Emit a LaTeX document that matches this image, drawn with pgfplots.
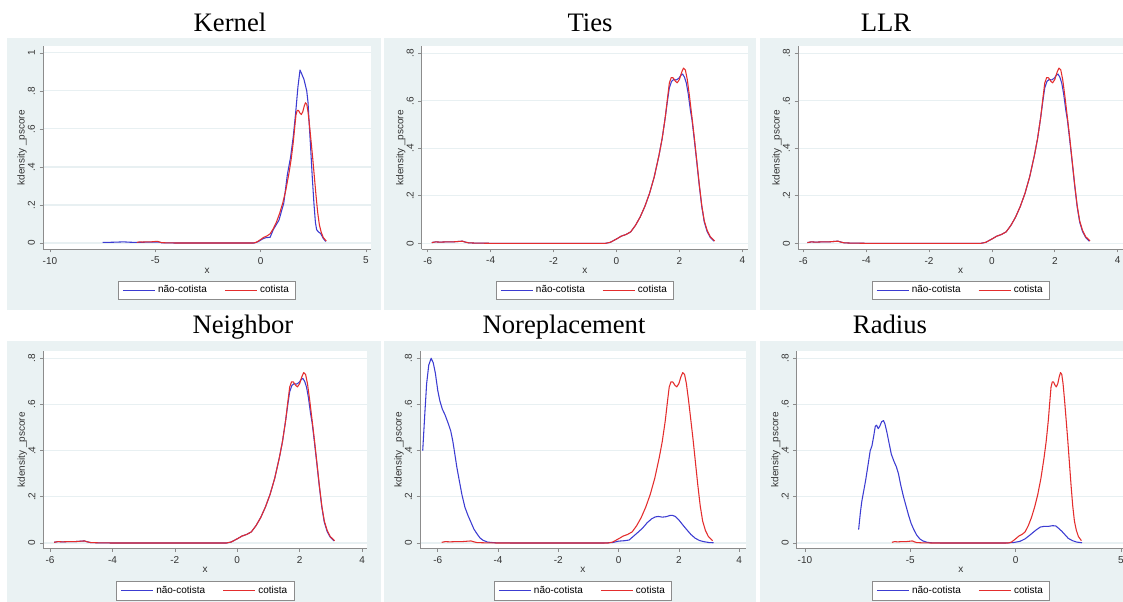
\documentclass[border=0pt]{standalone}
\usepackage{fontspec}
\setmainfont{Liberation Sans}
\newfontfamily\titlefont{Liberation Serif}
\usepackage{pgfplots}
\usepackage{pgfplotstable}
\pgfplotsset{compat=1.18}

\definecolor{bgpanel}{RGB}{234,242,243}
\definecolor{gridc}{RGB}{232,240,242}
\definecolor{nc}{RGB}{60,60,210}
\definecolor{ct}{RGB}{228,45,45}

% cotista density (same in every panel)
\pgfplotstableread{
x y
-5.87 0.003
-5.75 0.006
-5.6 0.005
-5.4 0.006
-5.2 0.006
-5.0 0.008
-4.9 0.009
-4.8 0.005
-4.7 0.002
-4.5 0.001
-4.0 0
-3.0 0
-2.0 0
-1.0 0
-0.35 0
-0.2 0.004
-0.1 0.011
0.05 0.022
0.15 0.03
0.3 0.037
0.45 0.048
0.6 0.075
0.75 0.11
0.9 0.155
1.05 0.21
1.2 0.28
1.35 0.37
1.45 0.44
1.55 0.53
1.62 0.61
1.68 0.675
1.74 0.698
1.8 0.697
1.87 0.683
1.93 0.676
2.0 0.69
2.07 0.72
2.13 0.738
2.19 0.73
2.25 0.69
2.32 0.62
2.4 0.53
2.47 0.45
2.55 0.35
2.63 0.25
2.71 0.16
2.79 0.095
2.88 0.055
2.98 0.028
3.12 0.01
}\cotista

% nao-cotista, kernel matching
\pgfplotstableread{
x y
-7.5 0.003
-7.0 0.004
-6.5 0.006
-6.2 0.004
-5.8 0.003
-5.3 0.005
-4.8 0.005
-4.7 0.001
-4.0 0
-2.0 0
-0.3 0
-0.1 0.008
0.1 0.022
0.25 0.028
0.45 0.03
0.6 0.07
0.87 0.12
1.1 0.21
1.27 0.36
1.42 0.45
1.55 0.56
1.66 0.68
1.77 0.82
1.87 0.91
1.95 0.89
2.06 0.86
2.19 0.80
2.25 0.74
2.31 0.62
2.37 0.51
2.45 0.35
2.53 0.21
2.6 0.11
2.66 0.07
2.75 0.058
2.85 0.05
2.97 0.025
3.09 0.008
}\kernblue

% nao-cotista, ties / llr / neighbor
\pgfplotstableread{
x y
-5.87 0.003
-5.75 0.006
-5.6 0.005
-5.4 0.006
-5.2 0.006
-5.0 0.008
-4.9 0.009
-4.8 0.005
-4.7 0.002
-4.5 0.001
-4.0 0
-3.0 0
-2.0 0
-1.0 0
-0.35 0
-0.2 0.004
-0.1 0.011
0.05 0.022
0.15 0.03
0.3 0.037
0.45 0.048
0.6 0.075
0.75 0.11
0.9 0.155
1.05 0.21
1.2 0.28
1.35 0.37
1.45 0.44
1.55 0.53
1.62 0.60
1.68 0.655
1.75 0.682
1.82 0.69
1.9 0.688
1.98 0.695
2.05 0.708
2.1 0.713
2.16 0.70
2.22 0.675
2.28 0.63
2.35 0.56
2.4 0.52
2.47 0.44
2.55 0.345
2.63 0.245
2.71 0.155
2.79 0.09
2.88 0.05
2.98 0.025
3.1 0.009
}\matchblue

% nao-cotista, noreplacement
\pgfplotstableread{
x y
-6.5 0.40
-6.43 0.56
-6.37 0.69
-6.3 0.77
-6.22 0.80
-6.15 0.78
-6.08 0.735
-6.0 0.66
-5.93 0.615
-5.85 0.58
-5.76 0.555
-5.66 0.52
-5.57 0.485
-5.5 0.44
-5.44 0.39
-5.37 0.33
-5.3 0.28
-5.2 0.21
-5.1 0.155
-5.0 0.12
-4.9 0.09
-4.8 0.06
-4.7 0.04
-4.6 0.022
-4.5 0.012
-4.35 0.004
-4.1 0.001
-3.5 0
-2 0
-0.5 0
-0.2 0.002
0.0 0.008
0.2 0.01
0.35 0.013
0.5 0.03
0.65 0.047
0.8 0.065
0.95 0.088
1.1 0.105
1.22 0.113
1.32 0.115
1.45 0.112
1.58 0.114
1.7 0.119
1.78 0.12
1.88 0.115
2.0 0.1
2.12 0.08
2.26 0.058
2.4 0.037
2.54 0.021
2.68 0.011
2.82 0.006
3.0 0.002
3.15 0.001
}\norepblue

% nao-cotista, radius
\pgfplotstableread{
x y
-7.45 0.058
-7.37 0.13
-7.3 0.18
-7.22 0.22
-7.12 0.27
-7.0 0.34
-6.9 0.40
-6.82 0.42
-6.74 0.46
-6.66 0.505
-6.6 0.51
-6.52 0.495
-6.45 0.505
-6.36 0.525
-6.27 0.53
-6.2 0.515
-6.11 0.48
-6.0 0.43
-5.9 0.385
-5.78 0.355
-5.66 0.33
-5.56 0.3
-5.45 0.25
-5.32 0.2
-5.2 0.16
-5.08 0.12
-4.96 0.085
-4.84 0.06
-4.7 0.035
-4.55 0.018
-4.4 0.009
-4.2 0.003
-4.0 0.001
-3.5 0
-0.5 0
-0.1 0.002
0.2 0.007
0.45 0.018
0.7 0.036
0.95 0.055
1.17 0.069
1.35 0.072
1.55 0.072
1.75 0.075
1.9 0.074
2.05 0.063
2.2 0.05
2.35 0.035
2.5 0.02
2.7 0.01
2.9 0.004
3.15 0.001
}\radblue

\pgfplotsset{
  stata/.style={
    scale only axis,
    anchor=south west,
    axis x line*=bottom,
    axis y line*=left,
    axis line style={black!45, line width=0.6pt},
    axis background/.style={fill=white},
    tick align=outside,
    major tick length=2.5pt,
    tick style={black!45, line width=0.5pt},
    minor tick num=0,
    ymajorgrids,
    grid style={gridc, line width=0.8pt},
    ticklabel style={font=\fontsize{7.5}{9}\selectfont, text=black!80},
    yticklabel style={rotate=90, anchor=south},
    label style={font=\fontsize{7.5}{9}\selectfont, text=black!80},
    xlabel={x},
    ylabel={kdensity \_pscore},
    xlabel style={yshift=4pt},
    ylabel style={yshift=-6pt},
    legend columns=2,
    legend cell align=left,
    legend style={draw=black!45, fill=white, anchor=north,
      font=\fontsize{7.5}{9}\selectfont, inner xsep=3pt, inner ysep=1.5pt,
      /tikz/every even column/.append style={column sep=11pt}},
    legend image code/.code={\draw[#1] (0pt,0pt) -- (24pt,0pt);},
    every axis plot/.append style={line width=0.8pt, line join=round, no marks},
  },
  row1/.style={height=151.9pt, ymin=-0.024, ymax=0.829,
    legend style={at={(0.5,-0.157)}}},
  row2/.style={height=148.1pt, ymin=-0.024, ymax=0.831,
    legend style={at={(0.5,-0.165)}}},
  yeight/.style={ytick={0,0.2,0.4,0.6,0.8}, yticklabels={0,.2,.4,.6,.8}},
  xsix/.style={xtick={-6,-4,-2,0,2,4}, xticklabels={-6,-4,-2,0,2,4}},
  xten/.style={xtick={-10,-5,0,5}, xticklabels={-10,-5,0,5}},
}

\begin{document}
\begin{tikzpicture}
\begin{scope}[x=0.75pt, y=-0.75pt]
  % panel backgrounds
  \fill[bgpanel] (7,38) rectangle (381,310);
  \fill[bgpanel] (384,38) rectangle (756,310);
  \fill[bgpanel] (760,38) rectangle (1130,310);
  \fill[bgpanel] (7,341) rectangle (381,610);
  \fill[bgpanel] (384,341) rectangle (756,610);
  \fill[bgpanel] (760,341) rectangle (1130,610);
  % titles
  \begin{scope}[every node/.style={anchor=base, inner sep=0pt, font=\titlefont\fontsize{20}{24}\selectfont}]
    \node at (230,31.5) {Kernel};
    \node at (590,31.5) {Ties};
    \node at (886,31.5) {LLR};
    \node at (243,333) {Neighbor};
    \node at (564,333) {Noreplacement};
    \node at (890,333) {Radius};
  \end{scope}
\end{scope}

% Kernel
\begin{axis}[stata, row1, at={(32.25pt,-186.75pt)}, width=246pt,
  xmin=-10.33, xmax=5.24, xten, ymin=-0.0316, ymax=1.034,
  ytick={0,0.2,0.4,0.6,0.8,1}, yticklabels={0,.2,.4,.6,.8,1}]
\addplot[nc] table {\kernblue};
\addplot[ct] table {\cotista};
\legend{não-cotista, cotista}
\end{axis}

% Ties
\begin{axis}[stata, row1, at={(316.3pt,-186.75pt)}, width=244.7pt,
  xmin=-6.19, xmax=4.18, xsix, yeight]
\addplot[nc] table {\matchblue};
\addplot[ct] table {\cotista};
\legend{não-cotista, cotista}
\end{axis}

% LLR
\begin{axis}[stata, row1, at={(598.5pt,-186.75pt)}, width=244pt,
  xmin=-6.17, xmax=4.18, xsix, yeight]
\addplot[nc] table {\matchblue};
\addplot[ct] table {\cotista};
\legend{não-cotista, cotista}
\end{axis}

% Neighbor
\begin{axis}[stata, row2, at={(32.5pt,-411.4pt)}, width=242.8pt,
  xmin=-6.215, xmax=4.16, xsix, yeight]
\addplot[nc] table {\matchblue};
\addplot[ct] table {\cotista};
\legend{não-cotista, cotista}
\end{axis}

% Noreplacement
\begin{axis}[stata, row2, at={(315pt,-411.4pt)}, width=244.3pt,
  xmin=-6.59, xmax=4.22, xsix, yeight]
\addplot[nc] table {\norepblue};
\addplot[ct] table {\cotista};
\legend{não-cotista, cotista}
\end{axis}

% Radius
\begin{axis}[stata, row2, at={(597.5pt,-411.4pt)}, width=246.4pt,
  xmin=-10.39, xmax=5.2, xten, yeight]
\addplot[nc] table {\radblue};
\addplot[ct] table {\cotista};
\legend{não-cotista, cotista}
\end{axis}

\pgfresetboundingbox
\path[use as bounding box] (0,0) rectangle (842.25pt,-450.75pt);
\end{tikzpicture}
\end{document}
